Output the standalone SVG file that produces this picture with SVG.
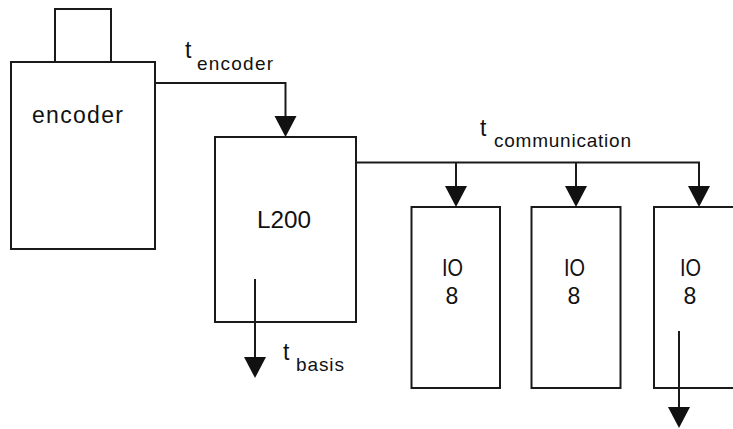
<svg xmlns="http://www.w3.org/2000/svg" width="733" height="429" viewBox="0 0 733 429">
<style>
.box{fill:#fff;stroke:#1a1a1a;stroke-width:2}
.ln{fill:none;stroke:#1a1a1a;stroke-width:2}
.ah{fill:#111;stroke:none}
text{font-family:"Liberation Sans",Arial,sans-serif;fill:#111}
.lbl{font-size:23px}
.sub{font-size:19px}
</style>
<defs>
<polygon id="head" class="ah" points="-11,-21 11,-21 0,0"/>
</defs>
<g id="encoder">
<rect class="box" x="55" y="9" width="56" height="53"/>
<rect class="box" x="11" y="62" width="144" height="187"/>
<text class="lbl" x="32" y="123" textLength="91" lengthAdjust="spacing">encoder</text>
</g>
<g id="L200">
<rect class="box" x="215" y="137" width="141" height="185"/>
<text class="lbl" x="257" y="228" textLength="54" lengthAdjust="spacingAndGlyphs">L200</text>
</g>
<g id="io1">
<rect class="box" x="411.5" y="207" width="88.5" height="181"/>
<text class="lbl" x="442" y="276" textLength="21" lengthAdjust="spacingAndGlyphs">IO</text>
<text class="lbl" x="452" y="304" text-anchor="middle">8</text>
</g>
<g id="io2">
<rect class="box" x="531.5" y="207" width="89" height="181"/>
<text class="lbl" x="564" y="276" textLength="21" lengthAdjust="spacingAndGlyphs">IO</text>
<text class="lbl" x="574" y="304" text-anchor="middle">8</text>
</g>
<g id="io3">
<rect class="box" x="654" y="207" width="90" height="181"/>
<text class="lbl" x="680" y="276" textLength="21" lengthAdjust="spacingAndGlyphs">IO</text>
<text class="lbl" x="690" y="304" text-anchor="middle">8</text>
</g>
<g id="connectors">
<polyline class="ln" points="155,83 285.5,83 285.5,120"/>
<use href="#head" x="285.5" y="137"/>
<polyline class="ln" points="356,162.5 699,162.5 699,190"/>
<line class="ln" x1="456" y1="162.5" x2="456" y2="190"/>
<line class="ln" x1="576" y1="162.5" x2="576" y2="190"/>
<use href="#head" x="456" y="207"/>
<use href="#head" x="576" y="207"/>
<use href="#head" x="699" y="207"/>
<line class="ln" x1="255" y1="279" x2="255" y2="362"/>
<use href="#head" x="255" y="378"/>
<line class="ln" x1="679" y1="331" x2="679" y2="412"/>
<use href="#head" x="679" y="428"/>
</g>
<g id="labels">
<text class="lbl" x="185" y="58">t</text>
<text class="sub" x="197" y="70" textLength="76" lengthAdjust="spacing">encoder</text>
<text class="lbl" x="480" y="136">t</text>
<text class="sub" x="494" y="147" textLength="137" lengthAdjust="spacing">communication</text>
<text class="lbl" x="283" y="360">t</text>
<text class="sub" x="296" y="371" textLength="48" lengthAdjust="spacing">basis</text>
</g>
</svg>
